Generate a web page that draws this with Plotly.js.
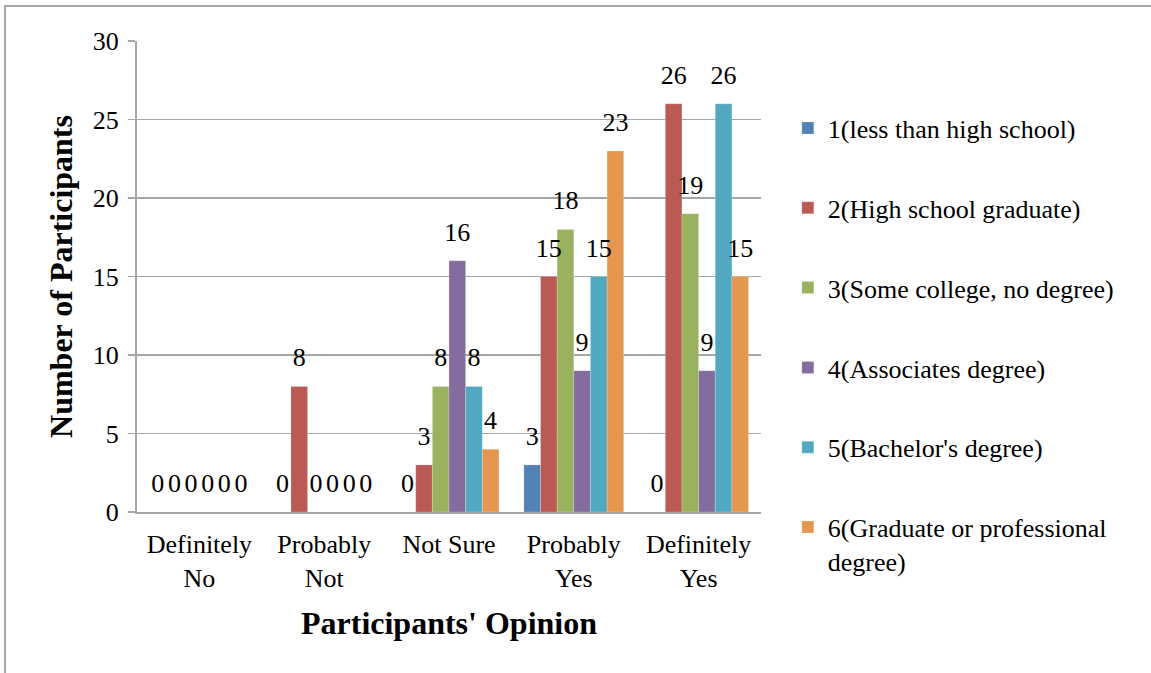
<!DOCTYPE html>
<html>
<head>
<meta charset="utf-8">
<script src="https://cdn.plot.ly/plotly-3.0.1.min.js"></script>
<style>
  html, body { margin: 0; padding: 0; background: #ffffff; }
  #wrap { position: relative; width: 1151px; height: 673px; overflow: hidden; }
  #chart { position: absolute; left: 0; top: 0; width: 1151px; height: 673px; }
  #frame { position: absolute; left: 4px; top: 5px; width: 1200px; height: 700px;
           border-left: 2px solid #a6a6a6; border-top: 2px solid #a6a6a6; pointer-events: none; }
</style>
</head>
<body>
<div id="wrap">
  <div id="chart"></div>
  <div id="frame"></div>
</div>
<script>
// ---- data ----
const categories = ["Definitely<br>No", "Probably<br>Not", "Not Sure", "Probably<br>Yes", "Definitely<br>Yes"];
const seriesNames = [
  "1(less than high school)",
  "2(High school graduate)",
  "3(Some college, no degree)",
  "4(Associates degree)",
  "5(Bachelor's degree)",
  "6(Graduate or professional<br>degree)"
];
const s1 = [0, 0, 0, 3, 0];
const s2 = [0, 8, 3, 15, 26];
const s3 = [0, 0, 8, 18, 19];
const s4 = [0, 0, 16, 9, 9];
const s5 = [0, 0, 8, 15, 26];
const s6 = [0, 0, 4, 23, 15];
const seriesValues = [s1, s2, s3, s4, s5, s6];
const colors = ["#5282B6", "#BA5A55", "#9AB15E", "#846C9E", "#51A8C0", "#E5974F"];
const yTicks = [0, 5, 10, 15, 20, 25, 30];

const FONT = "'Liberation Serif', 'Times New Roman', serif";

const traces = [];
seriesValues.forEach((vals, i) => {
  traces.push({
    type: "bar",
    name: seriesNames[i],
    x: categories,
    y: vals,
    marker: { color: colors[i], line: { color: "rgba(255,255,255,0.35)", width: 0.6 } },
    legendgroup: "g" + i,
    hoverinfo: "skip"
  });
});
seriesValues.forEach((vals, i) => {
  traces.push({
    type: "scatter",
    mode: "markers+text",
    x: categories,
    y: vals,
    text: vals.map(String),
    textposition: "top center",
    textfont: { family: FONT, size: 26, color: "#000000" },
    marker: { size: 20, color: "rgba(0,0,0,0)" },
    showlegend: false,
    cliponaxis: false,
    hoverinfo: "skip"
  });
});

const layout = {
  width: 1151,
  height: 673,
  margin: { l: 137, r: 390, t: 41, b: 161, pad: 0 },
  paper_bgcolor: "rgba(0,0,0,0)",
  plot_bgcolor: "#ffffff",
  font: { family: FONT, size: 26, color: "#000000" },
  barmode: "group",
  bargap: 0.2,
  bargroupgap: 0,
  scattermode: "group",
  scattergap: 0.2,
  showlegend: true,
  legend: {
    x: 1.043, xanchor: "left",
    y: 0.865, yanchor: "top",
    font: { family: FONT, size: 26, color: "#000000" },
    tracegroupgap: 43,
    valign: "top",
    maxheight: 620,
    bgcolor: "rgba(0,0,0,0)"
  },
  xaxis: {
    type: "category",
    showgrid: false,
    showline: true,
    linecolor: "#a6a6a6",
    linewidth: 2,
    ticks: "",
    ticklabelstandoff: 8,
    tickfont: { family: FONT, size: 26, color: "#000000" },
    title: { text: "<b>Participants' Opinion</b>", font: { family: FONT, size: 32, color: "#000000" }, standoff: 20 },
    fixedrange: true
  },
  yaxis: {
    range: [0, 30],
    tickvals: yTicks,
    ticktext: yTicks.map(String),
    showgrid: true,
    gridcolor: "#a6a6a6",
    gridwidth: 1.5,
    showline: true,
    linecolor: "#a6a6a6",
    linewidth: 2,
    ticks: "outside",
    ticklen: 7,
    tickcolor: "#a6a6a6",
    tickwidth: 1.5,
    ticklabelstandoff: 4,
    zeroline: false,
    tickfont: { family: FONT, size: 26, color: "#000000" },
    title: { text: "<b>Number of Participants</b>", font: { family: FONT, size: 32, color: "#000000" }, standoff: 11 },
    fixedrange: true
  }
};

Plotly.newPlot("chart", traces, layout, { displayModeBar: false, staticPlot: true });
</script>
</body>
</html>
